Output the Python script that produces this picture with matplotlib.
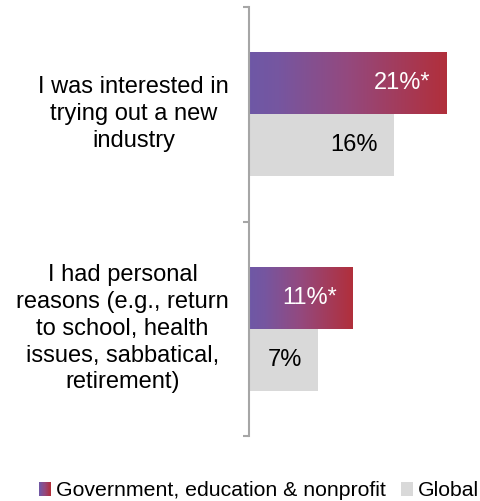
import numpy as np
import matplotlib
matplotlib.use("Agg")
import matplotlib.pyplot as plt
from matplotlib.colors import LinearSegmentedColormap
from matplotlib.patches import Rectangle
from matplotlib.legend_handler import HandlerBase
import matplotlib.transforms as mtransforms

plt.rcParams['font.family'] = ['Liberation Sans', 'DejaVu Sans']

categories = ["I was interested in\ntrying out a new\nindustry",
              "I had personal\nreasons (e.g., return\nto school, health\nissues, sabbatical,\nretirement)"]
series_names = ["Government, education & nonprofit", "Global"]
gov_values = [21.0, 11.0]
global_values = [15.4, 7.3]
gov_labels = ["21%*", "11%*"]
global_labels = ["16%", "7%"]

grad_cmap = LinearSegmentedColormap.from_list(
    "grad", [(0.0, "#6e58a6"), (0.15, "#7656a0"), (0.5, "#94497e"), (1.0, "#b12f3b")])
global_color = "#d9d9d9"
spine_color = "#a6a6a6"

fig = plt.figure(figsize=(4.8, 5.01), dpi=100)
ax = fig.add_axes([249/480, 65/501, 226/480, 429/501])

y = np.arange(len(categories))
h = 0.29
off = 0.145

gov_bars = ax.barh(y - off, gov_values, height=h, color="none", edgecolor="none")
glob_bars = ax.barh(y + off, global_values, height=h, color=global_color, edgecolor="none")

grad = np.linspace(0, 1, 256).reshape(1, -1)
for bar in gov_bars:
    x0, y0 = bar.get_x(), bar.get_y()
    w, hh = bar.get_width(), bar.get_height()
    im = ax.imshow(grad, cmap=grad_cmap, extent=[x0, x0 + w, y0, y0 + hh],
                   aspect='auto', interpolation='bicubic', zorder=2)
    im.set_clip_path(bar)

ax.set_xlim(0, 24)
ax.set_ylim(1.5, -0.5)

px = fig.dpi_scale_trans
for bar, lab in zip(gov_bars, gov_labels):
    tr = ax.transData + mtransforms.ScaledTranslation(-16/100, 0, px)
    ax.text(bar.get_width(), bar.get_y() + bar.get_height()/2, lab, color="white",
            fontsize=17, ha="right", va="center", transform=tr, zorder=3)
for bar, lab in zip(glob_bars, global_labels):
    tr = ax.transData + mtransforms.ScaledTranslation(-16/100, 0, px)
    ax.text(bar.get_width(), bar.get_y() + bar.get_height()/2, lab, color="black",
            fontsize=17, ha="right", va="center", transform=tr, zorder=3)

# category labels
lab_tr = mtransforms.blended_transform_factory(ax.transAxes, ax.transData) + \
    mtransforms.ScaledTranslation(-20/100, 0, px)
for yi, cat in zip(y, categories):
    ax.text(0, yi, cat, ha="right", va="center", multialignment="center",
            fontsize=17, transform=lab_tr, linespacing=1.28)

for s in ["top", "right", "bottom"]:
    ax.spines[s].set_visible(False)
ax.spines["left"].set_color(spine_color)
ax.spines["left"].set_linewidth(1.5)
ax.set_xticks([])
ax.set_yticks([-0.5, 0.5, 1.5])
ax.set_yticklabels([])
ax.tick_params(axis="y", length=4.5, width=1.5, color=spine_color)


class HandlerGradient(HandlerBase):
    def create_artists(self, legend, orig_handle, xdescent, ydescent, width, height,
                       fontsize, trans):
        n = 30
        arts = []
        for i in range(n):
            r = Rectangle((-xdescent + width*i/n, -ydescent), width/n*1.05, height,
                          facecolor=grad_cmap(i/(n-1)), edgecolor="none", transform=trans)
            arts.append(r)
        return arts


class GradProxy(Rectangle):
    pass


gp = GradProxy((0, 0), 1, 1)
gl = Rectangle((0, 0), 1, 1, facecolor=global_color, edgecolor="none")
fig.legend([gp, gl], series_names, handler_map={GradProxy: HandlerGradient()},
           loc="center", bbox_to_anchor=(259/480, 10/501), ncol=2, frameon=False,
           fontsize=15.3, handlelength=0.57, handleheight=0.57, handletextpad=0.25,
           columnspacing=0.7, borderpad=0, borderaxespad=0)

fig.savefig("out.png", dpi=100)
